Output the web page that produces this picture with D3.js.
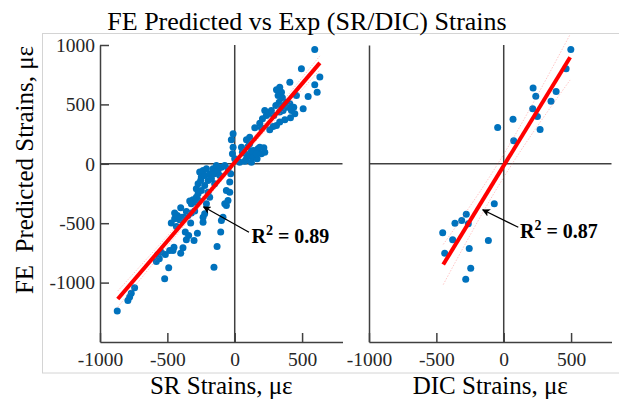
<!DOCTYPE html>
<html>
<head>
<meta charset="utf-8">
<script src="https://cdn.jsdelivr.net/npm/d3@7/dist/d3.min.js"></script>
<style>
  html, body { margin: 0; padding: 0; background: #fff; }
  svg { display: block; }
  svg text { font-family: "Liberation Serif", "Times New Roman", serif !important; }
</style>
</head>
<body>
<svg id="chart" width="619" height="401"></svg>
<script>
// Strain gauge (SR) readings vs finite-element predictions, microstrain
const srExp = [
  594, 495, 632, 594, 612, 545, 409, 508, 458, 334, 310, 347, 322, 354, 330, 305, 347, 384, 409, 389,
  421, 446, 414, 372, 438, 359, 334, 272, 260, 290, 223, 235, 206, 186, 198, 149, 310, 334, 285, 260,
  111, 87, 99, 141, 173, 198, 216, 50, 74, 111, 136, 166, 87, 57, -12, -25, -12, -17, 0, 223,
  111, 37, 74, 124, 161, 186, 124,
  -872, -793, -780, -768, -743, -520, -490, -582, -570, -545, -515, -483, -451, -401, -384, -359, -302, -277,
  -471, -446, -426, -446, -409, -391, -401, -377, -347, -322, -297, -327, -235, -235, -223, -334, -310, -285,
  -267, -297, -322, -285, -272, -253, -248, -223, -186, -161, -198, -223, -173, -149, -124, -99, -74, -50,
  -198, -186, -210, -37, -62, -37, -50, -62, -74, -87, -99, -104, -131, -154, -260, -235, -210, -136, -111,
  -149, -272, -248, -367, -342, -433, -359, -30, -560, -458
];
const srFE = [
  962, 800, 730, 665, 603, 567, 687, 463, 575, 645, 623, 603, 575, 556, 519, 491, 491, 519, 505, 477,
  449, 421, 387, 370, 477, 449, 435, 449, 421, 407, 449, 407, 379, 342, 303, 303, 323, 351, 314, 286,
  224, 202, 146, 112, 126, 84, 135, 140, 90, 70, 56, 42, 42, 98, 253, 202, 140, 84, 42, 98,
  168, 14, 22, 107, 84, 140, 14,
  -1240, -1150, -1122, -1089, -1044, -968, -876, -822, -763, -744, -763, -730, -702, -752, -707, -640, -645, -584,
  -499, -463, -435, -415, -471, -449, -370, -449, -435, -415, -398, -499, -491, -449, -421, -314, -303, -281,
  -309, -323, -337, -210, -168, -140, -112, -98, -84, -42, -140, -182, -126, -84, -56, -28, -14, -42,
  -239, -281, -337, -154, -224, -239, -309, -351, -337, -449, -477, -575, -696, -870, -70, -56, -42, -14, -98,
  -168, -253, -224, -575, -603, -528, -401, -84, -800, -730
];

// Digital image correlation (DIC) readings vs finite-element predictions
const dicExp = [
  498, 463, 389, 351, 218, 238, 215, 250, 270, 69, -45, 74,
  -70, -278, -312, -362, -263, -453, -379, -114, -438, -256, -245, -282
];
const dicFE = [
  962, 800, 609, 527, 637, 569, 463, 398, 289, 376, 306, 193,
  -337, -424, -477, -500, -505, -581, -640, -646, -752, -713, -879, -971
];

// Least-squares lines as reported: [slope, intercept, x start, x end]
const srFit = [1.325, 12, -868, 632];
const dicFit = [1.853, -16, -449, 493];
const r2Labels = ["0.89", "0.87"];

// Annotation anchors in data units: [arrow tip x, tip y, tail x, tail y, text x, text y]
const srNote = [-232, -362, 106, -576, 124, -668];
const dicNote = [-156, -387, 108, -534, 121, -625];

const xTicks = [-1000, -500, 0, 500];
const yTicks = [-1000, -500, 0, 500, 1000];
const xDomain = [-1000, 800];
const yDomain = [-1500, 1000];

const chartTitle = "FE Predicted vs Exp (SR/DIC) Strains";
const yTitle = "FE\u00a0\u00a0Predicted Strains, \u03bc\u03b5";
const xTitles = ["SR Strains, \u03bc\u03b5", "DIC Strains, \u03bc\u03b5"];

const serif = '"Liberation Serif", "Times New Roman", serif';
const svg = d3.select("#chart").attr("font-family", serif);
const axisColor = "#404040";
const dotColor = "#0072BD";

// light figure frame
svg.append("rect")
  .attr("x", 42.5).attr("y", 33.5).attr("width", 620).attr("height", 339.5)
  .attr("fill", "none").attr("stroke", "#d4d4d4").attr("stroke-width", 1);

const y = d3.scaleLinear().domain(yDomain).range([342, 45]);

svg.append("defs").append("marker")
  .attr("id", "arrowhead")
  .attr("viewBox", "0 0 10 10")
  .attr("refX", 9).attr("refY", 5)
  .attr("markerWidth", 8).attr("markerHeight", 8)
  .attr("markerUnits", "userSpaceOnUse")
  .attr("orient", "auto-start-reverse")
  .append("path")
  .attr("d", "M0,0 L10,5 L0,10 L2.5,5 Z")
  .attr("fill", "#000");

const panels = [
  { range: [100, 342.5], xs: srExp, ys: srFE, fit: srFit, note: srNote, r2: r2Labels[0], xTitle: xTitles[0], yLabels: true },
  { range: [369, 611.5], xs: dicExp, ys: dicFE, fit: dicFit, note: dicNote, r2: r2Labels[1], xTitle: xTitles[1], yLabels: false }
];

const fmt = d => String(d);

panels.forEach(p => {
  const x = d3.scaleLinear().domain(xDomain).range(p.range);
  const g = svg.append("g");

  // axes with inward ticks
  const gx = g.append("g")
    .attr("transform", `translate(0,${y(yDomain[0])})`)
    .call(d3.axisBottom(x).tickValues(xTicks).tickSize(-9).tickSizeOuter(0).tickPadding(10).tickFormat(fmt));
  const yAxis = p.yLabels
    ? d3.axisLeft(y).tickValues(yTicks).tickSize(-9).tickSizeOuter(0).tickPadding(5).tickFormat(fmt)
    : d3.axisLeft(y).tickValues([]).tickSizeOuter(0);
  const gy = g.append("g")
    .attr("transform", `translate(${x(xDomain[0])},0)`)
    .call(yAxis);
  [gx, gy].forEach(a => {
    a.attr("font-family", serif).attr("font-size", 19.5);
    a.selectAll("path, line").attr("stroke", axisColor).attr("stroke-width", 1.5);
    a.selectAll("text").attr("fill", "#262626");
  });

  // zero lines
  g.append("line")
    .attr("x1", x(0)).attr("x2", x(0)).attr("y1", y(yDomain[1])).attr("y2", y(yDomain[0]))
    .attr("stroke", axisColor).attr("stroke-width", 1.5);
  g.append("line")
    .attr("x1", x(xDomain[0])).attr("x2", x(xDomain[1])).attr("y1", y(0)).attr("y2", y(0))
    .attr("stroke", axisColor).attr("stroke-width", 1.5);

  // data points
  g.append("g").selectAll("circle")
    .data(p.xs.map((v, i) => [v, p.ys[i]]))
    .join("circle")
    .attr("cx", d => x(d[0]))
    .attr("cy", d => y(d[1]))
    .attr("r", 3.5)
    .attr("fill", dotColor);

  // 95% confidence band around the fitted line
  const [m, b, x0, x1] = p.fit;
  const n = p.xs.length;
  const xm = d3.mean(p.xs);
  const sxx = d3.sum(p.xs, v => (v - xm) * (v - xm));
  const s = Math.sqrt(d3.sum(p.xs, (v, i) => Math.pow(p.ys[i] - (m * v + b), 2)) / (n - 2));
  const t = n > 60 ? 1.98 : 2.07;
  const band = d3.range(41).map(k => {
    const xv = x0 + (x1 - x0) * k / 40;
    const h = t * s * Math.sqrt(1 / n + (xv - xm) * (xv - xm) / sxx);
    return [xv, m * xv + b - h, m * xv + b + h];
  });
  [1, 2].forEach(j => {
    g.append("path")
      .datum(band)
      .attr("d", d3.line().x(d => x(d[0])).y(d => y(d[j])))
      .attr("fill", "none")
      .attr("stroke", "#ff6a6a")
      .attr("stroke-opacity", 0.55)
      .attr("stroke-width", 0.7)
      .attr("stroke-dasharray", "1.5,1.5");
  });

  // fitted line
  g.append("line")
    .attr("x1", x(x0)).attr("y1", y(m * x0 + b))
    .attr("x2", x(x1)).attr("y2", y(m * x1 + b))
    .attr("stroke", "#ff0000").attr("stroke-width", 4);

  // R² annotation
  const [tx, ty, sx, sy, lx, ly] = p.note;
  g.append("line")
    .attr("x1", x(sx)).attr("y1", y(sy))
    .attr("x2", x(tx)).attr("y2", y(ty))
    .attr("stroke", "#000").attr("stroke-width", 1.3)
    .attr("marker-end", "url(#arrowhead)");
  const lab = g.append("text")
    .attr("x", x(lx)).attr("y", y(ly))
    .attr("font-weight", "bold")
    .attr("font-size", 20)
    .attr("fill", "#000");
  lab.append("tspan").text("R");
  lab.append("tspan").attr("dy", -8).attr("font-size", 14).text("2");
  lab.append("tspan").attr("dy", 8).text(" = " + p.r2);

  // x axis title
  svg.append("text")
    .attr("x", (p.range[0] + p.range[1]) / 2)
    .attr("y", 394)
    .attr("text-anchor", "middle")
    .attr("font-size", 25)
    .attr("fill", "#000")
    .text(p.xTitle);
});

// y axis title
svg.append("text")
  .attr("transform", "translate(33,170) rotate(-90)")
  .attr("text-anchor", "middle")
  .attr("font-size", 25)
  .attr("fill", "#000")
  .text(yTitle);

// chart title
svg.append("text")
  .attr("x", 307)
  .attr("y", 30)
  .attr("text-anchor", "middle")
  .attr("font-size", 26)
  .attr("fill", "#000")
  .text(chartTitle);
</script>
</body>
</html>
